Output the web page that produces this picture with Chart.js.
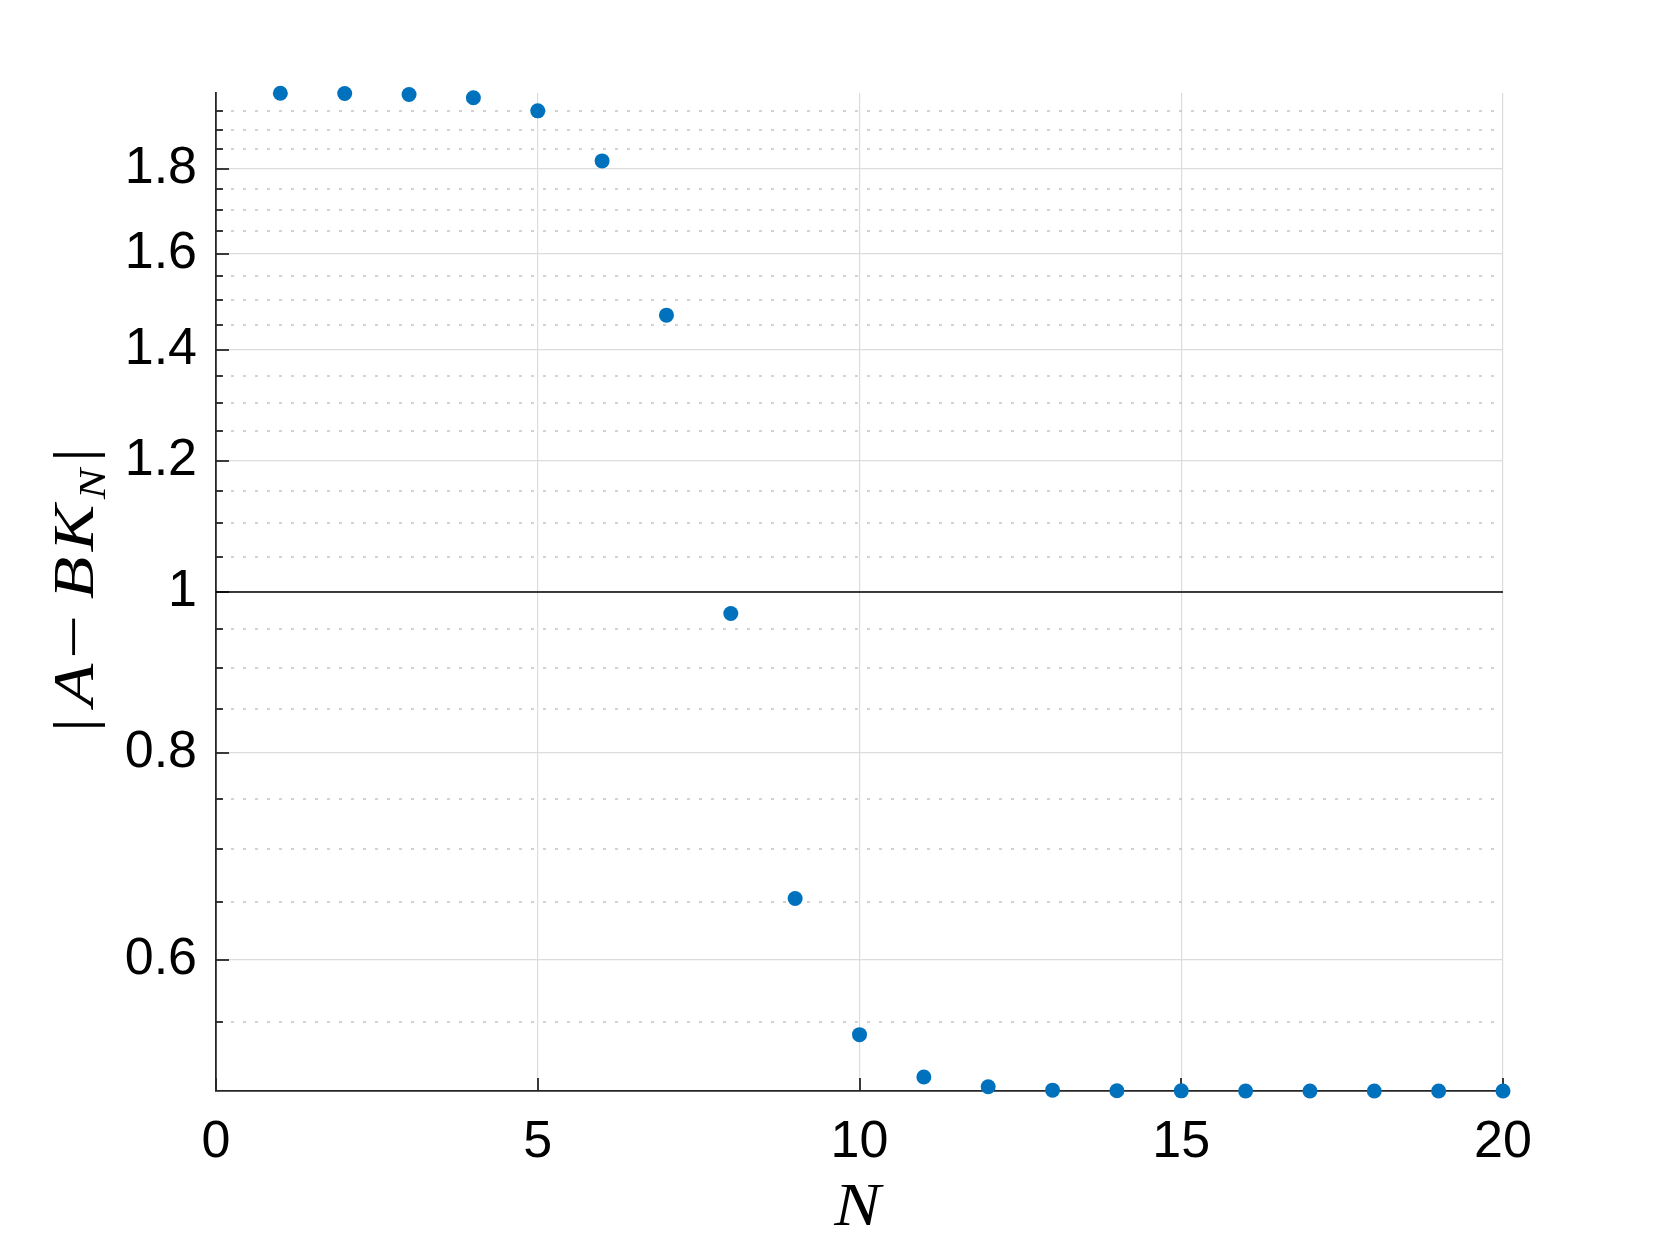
<!DOCTYPE html>
<html><head><meta charset="utf-8">
<script src="https://cdn.jsdelivr.net/npm/chart.js@4.4.1/dist/chart.umd.min.js"></script>
<style>html,body{margin:0;padding:0;background:#fff;overflow:hidden;} canvas{display:block;}</style>
</head><body>
<canvas id="c" width="1661" height="1246"></canvas>
<script>
// ---- data ----
const nValues = [1,2,3,4,5,6,7,8,9,10,11,12,13,14,15,16,17,18,19,20];
const errorValues = [1.9995,1.9985,1.996,1.987,1.951,1.820,1.469,0.9706,0.6533,0.5407,0.5098,0.5030,0.5006,0.5002,0.5001,0.5,0.5,0.5,0.5,0.5];
const refLineX = [0, 20];
const refLineY = [1, 1];
// ---- ticks ----
const xTicks = [0,5,10,15,20];
const yMajorTicks = [0.6,0.8,1,1.2,1.4,1.6,1.8];
const yMinorTicks = [0.55,0.65,0.7,0.75,0.85,0.9,0.95,1.05,1.1,1.15,1.25,1.3,1.35,1.45,1.5,1.55,1.65,1.7,1.75,1.85,1.9,1.95];
const xRange = [0, 20];
const yRange = [0.5, 2];

const AXIS_COLOR = '#262626';
const GRID_COLOR = '#dcdcdc';
const MINOR_GRID_COLOR = '#c4c4c4';
const SERIF = '"Liberation Serif", "Times New Roman", serif';

const decor = {
  id: 'matlabDecor',
  beforeDatasetsDraw(chart) {
    const {ctx, chartArea: a, scales: {x, y}} = chart;
    ctx.save();
    // minor dotted grid
    ctx.strokeStyle = MINOR_GRID_COLOR;
    ctx.lineWidth = 1.6;
    ctx.setLineDash([3, 9]);
    ctx.lineDashOffset = 9;
    yMinorTicks.forEach(v => {
      const py = Math.round(y.getPixelForValue(v));
      ctx.beginPath(); ctx.moveTo(a.left, py); ctx.lineTo(a.right, py); ctx.stroke();
    });
    ctx.setLineDash([]);
    // inward tick marks
    ctx.strokeStyle = AXIS_COLOR;
    ctx.lineWidth = 1.8;
    yMajorTicks.forEach(v => {
      const py = Math.round(y.getPixelForValue(v));
      ctx.beginPath(); ctx.moveTo(a.left, py); ctx.lineTo(a.left + 13, py); ctx.stroke();
    });
    yMinorTicks.forEach(v => {
      const py = Math.round(y.getPixelForValue(v));
      ctx.beginPath(); ctx.moveTo(a.left, py); ctx.lineTo(a.left + 7, py); ctx.stroke();
    });
    xTicks.forEach(v => {
      const px = Math.round(x.getPixelForValue(v));
      ctx.beginPath(); ctx.moveTo(px, a.bottom); ctx.lineTo(px, a.bottom - 13); ctx.stroke();
    });
    ctx.restore();
  },
  afterDraw(chart) {
    const {ctx, chartArea: a} = chart;
    ctx.save();
    ctx.fillStyle = '#000';
    ctx.textAlign = 'center';
    ctx.textBaseline = 'alphabetic';
    // x title
    ctx.save();
    ctx.translate((a.left + a.right) / 2 - 2, a.bottom + 134);
    ctx.scale(1.12, 1);
    ctx.font = 'italic 62px ' + SERIF;
    ctx.fillText('N', 0, 0);
    ctx.restore();
    // y title  |A − BK_N|  (u = position along text from centre, dy = baseline shift, sx = stretch)
    const parts = [
      {t: '|', f: '58px ' + SERIF, u: -133, dy: 0, sx: 1.2},
      {t: 'A', f: 'italic 58px ' + SERIF, u: -93, dy: 0, sx: 1.2},
      {t: '−', f: '58px ' + SERIF, u: -45, dy: 0, sx: 1.35},
      {t: 'B', f: 'italic 58px ' + SERIF, u: 14, dy: 0, sx: 1.2},
      {t: 'K', f: 'italic 58px ' + SERIF, u: 64, dy: 0, sx: 1.2},
      {t: 'N', f: 'italic 38px ' + SERIF, u: 108, dy: 12, sx: 1.2},
      {t: '|', f: '58px ' + SERIF, u: 137, dy: 0, sx: 1.2}
    ];
    ctx.translate(a.left - 123, (a.top + a.bottom) / 2);
    ctx.rotate(-Math.PI / 2);
    parts.forEach(p => {
      ctx.save();
      ctx.translate(p.u, p.dy);
      ctx.scale(p.sx, 1);
      ctx.font = p.f;
      ctx.fillText(p.t, 0, 0);
      ctx.restore();
    });
    ctx.restore();
  }
};

new Chart(document.getElementById('c'), {
  data: {
    datasets: [
      {
        type: 'line',
        data: refLineX.map((v, i) => ({x: v, y: refLineY[i]})),
        borderColor: '#000',
        borderWidth: 1.6,
        pointRadius: 0,
        fill: false,
        order: 2
      },
      {
        type: 'scatter',
        data: nValues.map((v, i) => ({x: v, y: errorValues[i]})),
        backgroundColor: '#0072BD',
        borderWidth: 0,
        pointRadius: 7.5,
        clip: false,
        order: 1
      }
    ]
  },
  options: {
    responsive: false,
    animation: false,
    devicePixelRatio: 1,
    events: [],
    layout: {padding: {left: 0, top: 93, right: 158, bottom: 0}},
    plugins: {legend: {display: false}, tooltip: {enabled: false}},
    scales: {
      x: {
        type: 'linear',
        min: xRange[0], max: xRange[1],
        afterBuildTicks: s => { s.ticks = xTicks.map(v => ({value: v})); },
        afterFit: s => { s.height = 155; },
        grid: {color: GRID_COLOR, lineWidth: 1.2, drawTicks: false},
        border: {color: AXIS_COLOR, width: 1.8},
        ticks: {
          color: '#000', padding: 20, autoSkip: false, maxRotation: 0,
          font: {family: '"Liberation Sans", Arial, sans-serif', size: 52},
          callback: v => String(v)
        }
      },
      y: {
        type: 'logarithmic',
        min: yRange[0], max: yRange[1],
        afterBuildTicks: s => { s.ticks = yMajorTicks.map(v => ({value: v})); },
        afterFit: s => { s.width = 216; },
        grid: {color: GRID_COLOR, lineWidth: 1.2, drawTicks: false},
        border: {color: AXIS_COLOR, width: 1.8},
        ticks: {
          color: '#000', padding: 19, autoSkip: false,
          font: {family: '"Liberation Sans", Arial, sans-serif', size: 52},
          callback: v => String(v)
        }
      }
    }
  },
  plugins: [decor]
});
</script>
</body></html>
